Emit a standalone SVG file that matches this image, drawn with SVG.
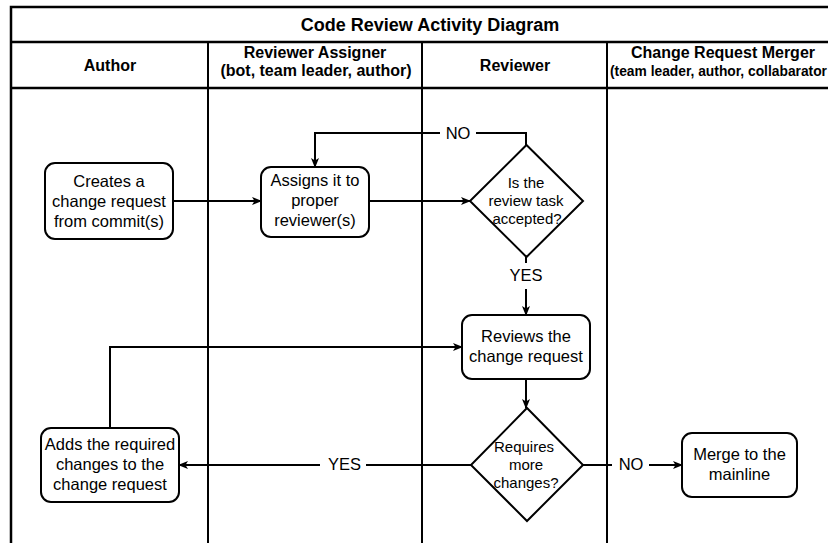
<svg xmlns="http://www.w3.org/2000/svg" width="828" height="543" viewBox="0 0 828 543">
  <style>
    text { font-family: "Liberation Sans", Arial, Helvetica, sans-serif; fill: #000; text-anchor: middle; }
    .title { font-size: 18px; font-weight: bold; }
    .lane { font-size: 16px; font-weight: bold; }
    .lane-sub { font-size: 13.8px; font-weight: bold; text-anchor: start; }
    .box { fill: #fff; stroke: #000; stroke-width: 2; }
    .lbl { font-size: 16.5px; }
    .dlbl { font-size: 15px; }
    .edge { fill: none; stroke: #000; stroke-width: 2; }
    .frame { fill: none; stroke: #000; stroke-width: 2.5; }
    .gap { fill: #fff; stroke: none; }
  </style>
  <defs>
    <marker id="arrow" viewBox="0 0 10 8" refX="9" refY="4" markerWidth="10" markerHeight="8" markerUnits="userSpaceOnUse" orient="auto">
      <path d="M0,0 L10,4 L0,8 L2.5,4 Z" fill="#000"/>
    </marker>
  </defs>

  <rect width="828" height="543" fill="#fff"/>

  <!-- swimlane frame -->
  <g id="pool">
    <rect class="frame" x="11" y="7" width="850" height="560"/>
    <line class="frame" x1="11" y1="42" x2="861" y2="42"/>
    <line class="frame" x1="11" y1="88" x2="861" y2="88" stroke-width="3"/>
    <line class="edge" x1="208" y1="42" x2="208" y2="567"/>
    <line class="edge" x1="422" y1="42" x2="422" y2="567"/>
    <line class="edge" x1="607" y1="42" x2="607" y2="567"/>
    <text class="title" x="430" y="31">Code Review Activity Diagram</text>
    <text class="lane" x="110" y="71">Author</text>
    <text class="lane" x="315" y="58">Reviewer Assigner</text>
    <text class="lane" x="316" y="76">(bot, team leader, author)</text>
    <text class="lane" x="515" y="71">Reviewer</text>
    <text class="lane" x="723" y="58">Change Request Merger</text>
    <text class="lane-sub" x="610" y="76">(team leader, author, collabarator</text>
  </g>

  <!-- connectors -->
  <g id="connectors">
    <path class="edge" d="M173,201 H261" marker-end="url(#arrow)"/>
    <path class="edge" d="M369,201 H470" marker-end="url(#arrow)"/>
    <path class="edge" d="M526,145 V133 H315 V167" marker-end="url(#arrow)"/>
    <path class="edge" d="M526,257 V315" marker-end="url(#arrow)"/>
    <path class="edge" d="M526,379 V408" marker-end="url(#arrow)"/>
    <path class="edge" d="M471,465 H179" marker-end="url(#arrow)"/>
    <path class="edge" d="M583,465 H682" marker-end="url(#arrow)"/>
    <path class="edge" d="M110,428 V347 H462" marker-end="url(#arrow)"/>

    <rect class="gap" x="440" y="124" width="36" height="18"/>
    <text class="lbl" x="458" y="139">NO</text>
    <rect class="gap" x="508" y="263" width="36" height="26"/>
    <text class="lbl" x="526" y="281">YES</text>
    <rect class="gap" x="320" y="456" width="46" height="18"/>
    <text class="lbl" x="344.5" y="470">YES</text>
    <rect class="gap" x="612" y="456" width="37" height="18"/>
    <text class="lbl" x="631" y="470">NO</text>
  </g>

  <g id="create-request">
    <rect class="box" x="45" y="163" width="128" height="76" rx="10"/>
    <text class="lbl" x="109" y="187">Creates a</text>
    <text class="lbl" x="109" y="207">change request</text>
    <text class="lbl" x="109" y="227">from commit(s)</text>
  </g>

  <g id="assign-reviewers">
    <rect class="box" x="261" y="167" width="108" height="70" rx="10"/>
    <text class="lbl" x="315" y="186">Assigns it to</text>
    <text class="lbl" x="315" y="206">proper</text>
    <text class="lbl" x="315" y="226">reviewer(s)</text>
  </g>

  <g id="task-accepted">
    <polygon class="box" points="526.5,145 583,201 526.5,257 470,201"/>
    <text class="dlbl" x="526" y="188">Is the</text>
    <text class="dlbl" x="526" y="206">review task</text>
    <text class="dlbl" x="527" y="224">accepted?</text>
  </g>

  <g id="review-request">
    <rect class="box" x="462" y="315" width="128" height="64" rx="10"/>
    <text class="lbl" x="526" y="342">Reviews the</text>
    <text class="lbl" x="526" y="362">change request</text>
  </g>

  <g id="more-changes">
    <polygon class="box" points="527,408 583,465 527,521 471,465"/>
    <text class="dlbl" x="524" y="452">Requires</text>
    <text class="dlbl" x="526" y="470">more</text>
    <text class="dlbl" x="526" y="488">changes?</text>
  </g>

  <g id="add-changes">
    <rect class="box" x="41" y="428" width="138" height="74" rx="10"/>
    <text class="lbl" x="110" y="450">Adds the required</text>
    <text class="lbl" x="110" y="470">changes to the</text>
    <text class="lbl" x="110" y="490">change request</text>
  </g>

  <g id="merge-mainline">
    <rect class="box" x="682" y="433" width="115" height="64" rx="10"/>
    <text class="lbl" x="739.5" y="460">Merge to the</text>
    <text class="lbl" x="739.5" y="480">mainline</text>
  </g>
</svg>
